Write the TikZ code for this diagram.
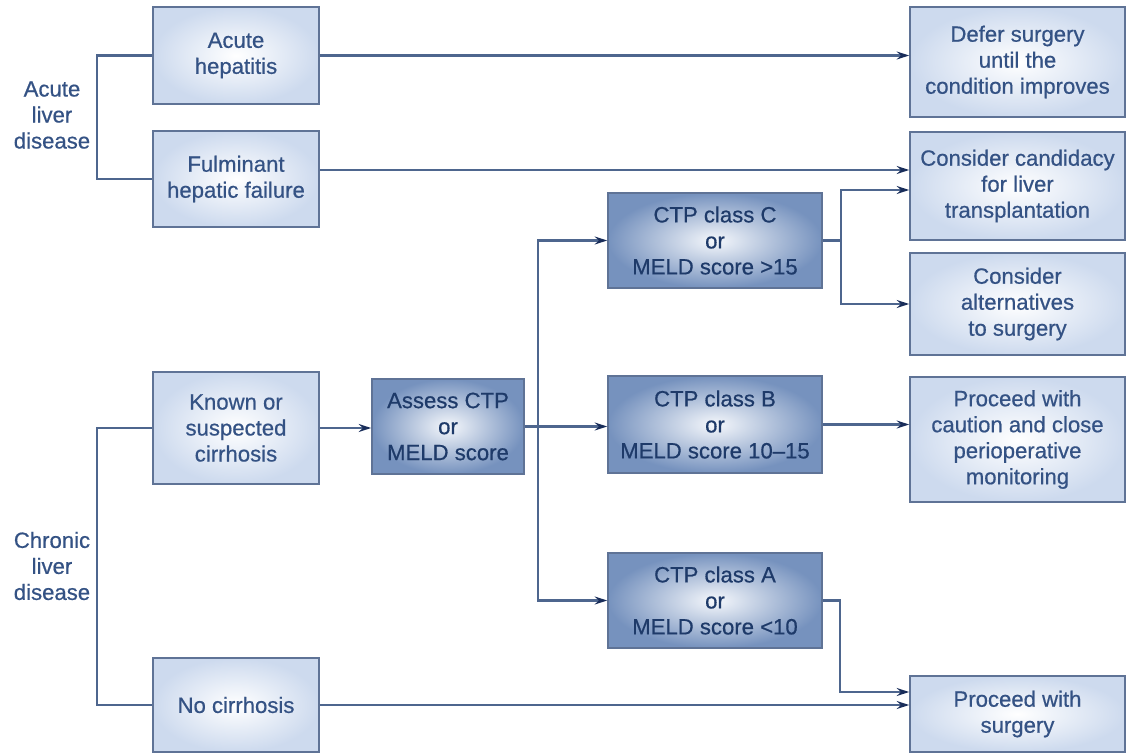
\documentclass[tikz,border=0pt]{standalone}
\usepackage{fontspec}
\setmainfont{Liberation Sans}
\newfontfamily\thickfont[FakeBold=0.6]{Liberation Sans}
\usetikzlibrary{arrows.meta,calc}
\definecolor{txt}{RGB}{52,82,132}
\definecolor{txtd}{RGB}{30,58,105}
\definecolor{ln}{RGB}{78,102,142}
\definecolor{bd}{RGB}{95,115,150}
\definecolor{lightedge}{RGB}{205,218,238}
\definecolor{darkedge}{RGB}{118,146,190}
\definecolor{tipc}{RGB}{25,45,90}
\begin{document}
\begin{tikzpicture}[x=0.02cm,y=-0.02cm,
  box/.style={draw=bd, line width=1pt, align=center, inner sep=2pt, font=\thickfont\fontsize{12.6}{14.8}\selectfont},
  lbox/.style={box, inner color=white, outer color=lightedge, text=txt},
  dbox/.style={box, inner color=white!80!lightedge, outer color=darkedge, text=txtd},
  lab/.style={align=center, text=txt, font=\thickfont\fontsize{12.6}{14.8}\selectfont},
  conn/.style={draw=ln, line width=1.2pt},
  arr/.style={conn, -{Stealth[length=7pt,width=4.5pt,color=tipc]}}]
\useasboundingbox (0,0) rectangle (1126,753);
% left column
\node[lbox, minimum width=3.32cm, minimum height=1.94cm] (ah) at (236,55.5) {Acute\\hepatitis};
\node[lbox, minimum width=3.32cm, minimum height=1.92cm] (fhf) at (236,179) {Fulminant\\hepatic failure};
\node[lbox, minimum width=3.32cm, minimum height=2.24cm] (kc) at (236,428) {Known or\\suspected\\cirrhosis};
\node[lbox, minimum width=3.32cm, minimum height=1.88cm] (nc) at (236,705) {No cirrhosis};
\node[lab] (acl) at (52,115) {Acute\\liver\\disease};
\node[lab] (chl) at (52,566) {Chronic\\liver\\disease};
% middle
\node[dbox, minimum width=3.04cm, minimum height=1.9cm] (asm) at (448,426.5) {Assess CTP\\or\\MELD score};
\node[dbox, minimum width=4.28cm, minimum height=1.9cm] (cc) at (715,240.5) {CTP class C\\or\\MELD score >15};
\node[dbox, minimum width=4.28cm, minimum height=1.94cm] (cb) at (715,424.5) {CTP class B\\or\\MELD score 10–15};
\node[dbox, minimum width=4.28cm, minimum height=1.9cm] (ca) at (715,600.5) {CTP class A\\or\\MELD score <10};
% right column
\node[lbox, minimum width=4.3cm, minimum height=2.2cm] (defer) at (1017.5,62) {Defer surgery\\until the\\condition improves};
\node[lbox, minimum width=4.3cm, minimum height=2.16cm] (cand) at (1017.5,186) {Consider candidacy\\for liver\\transplantation};
\node[lbox, minimum width=4.3cm, minimum height=2.04cm] (alt) at (1017.5,304) {Consider\\alternatives\\to surgery};
\node[lbox, minimum width=4.3cm, minimum height=2.5cm] (caut) at (1017.5,439.5) {Proceed with\\caution and close\\perioperative\\monitoring};
\node[lbox, minimum width=4.3cm, minimum height=1.52cm] (surg) at (1017.5,714) {Proceed with\\surgery};
% helper coordinates
\coordinate (f1) at ($(cand.west)+(0,-16)$);
\coordinate (c2) at ($(cand.west)+(0,4)$);
\coordinate (s1) at ($(surg.west)+(0,-22)$);
% connectors
\draw[conn] (ah.west) -- ++(-55,0) |- (fhf.west);
\draw[conn] (kc.west) -- ++(-55,0) |- (nc.west);
\draw[arr] (ah.east) -- (ah.east -| defer.west);
\draw[arr] (fhf.east |- f1) -- (f1);
\draw[arr] (kc.east) -- (kc.east -| asm.west);
\draw[arr] (asm.east) -- (asm.east -| cb.west);
\draw[arr] ($(asm.east)+(13,0)$) |- (cc.west);
\draw[arr] ($(asm.east)+(13,0)$) |- (ca.west);
\draw[arr] (cb.east) -- (cb.east -| caut.west);
\draw[conn] (cc.east) -- ++(18,0);
\draw[arr] ($(cc.east)+(18,0)$) |- (c2);
\draw[arr] ($(cc.east)+(18,0)$) |- (alt.west);
\draw[arr] (ca.east) -- ++(17,0) |- (s1);
\draw[arr] (nc.east) -- (nc.east -| surg.west);
\end{tikzpicture}
\end{document}
